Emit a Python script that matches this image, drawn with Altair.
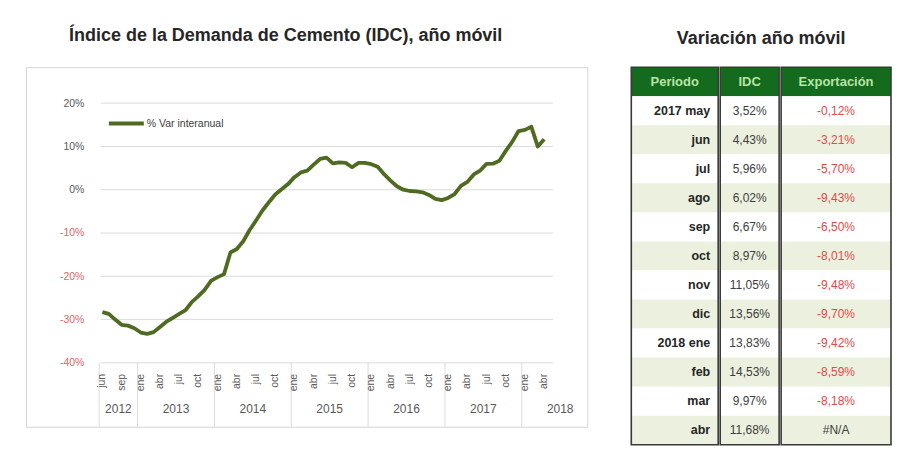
import altair as alt
import pandas as pd

# ---------------- data ----------------
# % variación interanual del IDC (año móvil), jul 2012 .. abr 2018
idc_series = [-28.3, -28.7, -30.0, -31.2, -31.4, -32.0, -33.0, -33.3, -32.9, -31.7,
              -30.5, -29.6, -28.7, -27.8, -25.9, -24.6, -23.1, -21.0, -20.2, -19.5,
              -14.5, -13.7, -11.9, -9.3, -7.1, -4.8, -2.9, -1.1, 0.1, 1.3,
              2.9, 4.0, 4.4, 5.8, 7.1, 7.4, 6.1, 6.3, 6.2, 5.2,
              6.2, 6.2, 5.9, 5.3, 3.6, 2.1, 0.8, 0.0, -0.3, -0.4,
              -0.6, -1.2, -2.1, -2.4, -1.9, -1.0, 0.9, 1.8,
              3.52, 4.43, 5.96, 6.02, 6.67, 8.97, 11.05, 13.56, 13.83, 14.53, 9.97, 11.68]
series_name = "% Var interanual"

x_tick_labels = ["jun", "sep"] + ["ene", "abr", "jul", "oct"] * 5 + ["ene", "abr"]
y_ticks = [-40, -30, -20, -10, 0, 10, 20]

years = ["2012", "2013", "2014", "2015", "2016", "2017", "2018"]
year_first_idx = [0, 6, 18, 30, 42, 54, 66]
year_last_idx = [5, 17, 29, 41, 53, 65, 77]

periodos = ["2017 may", "jun", "jul", "ago", "sep", "oct", "nov", "dic",
            "2018 ene", "feb", "mar", "abr"]
exportacion = [-0.12, -3.21, -5.70, -9.43, -6.50, -8.01, -9.48, -9.70,
               -9.42, -8.59, -8.18, None]
idc_tabla = idc_series[-12:]
headers = ["Periodo", "IDC", "Exportación"]

# ---------------- styles ----------------
FONT = "Liberation Sans"
OLIVE = "#4f6b22"
GRID = "#dcdcdc"
TXT = "#595959"
NEG = "#e06666"
HEAD_BG = "#146b1d"
HEAD_TXT = "#b9e4a8"
SHADE = "#ebf1de"
BORDER = "#3a3a3a"

# ---------------- left chart ----------------
line_df = pd.DataFrame({"i": list(range(len(idc_series))), "v": idc_series,
                        "serie": series_name})
grid_df = pd.DataFrame({"v": y_ticks})
tick_df = pd.DataFrame({"i": [3 * k for k in range(len(x_tick_labels))],
                        "lab": x_tick_labels})
year_df = pd.DataFrame({
    "year": years,
    "i": [(a + b) / 2 for a, b in zip(year_first_idx, year_last_idx)],
})
sep_df = pd.DataFrame({"i": [a - 0.5 for a in year_first_idx]})

XS = alt.Scale(domain=[-11.93, 75.74], nice=False, zero=False)
YS = alt.Scale(domain=[-54.77, 28.31], nice=False, zero=False)
XAXIS = alt.Axis(labels=False, ticks=False, domain=False, grid=False, title=None)
YAXIS = alt.Axis(values=y_ticks, labelExpr="datum.value + '%'", offset=-58,
                 labelPadding=0, ticks=False, domain=False, grid=False, title=None,
                 labelFontSize=10.5, labelFont=FONT, labelFlush=False,
                 labelColor={"condition": {"test": "datum.value < 0", "value": NEG},
                             "value": TXT})

X_ENC = alt.X("i:Q", scale=XS, axis=XAXIS)
Y_ENC = alt.Y("v:Q", scale=YS, axis=YAXIS)

grid = alt.Chart(grid_df).mark_rule(color=GRID, strokeWidth=1).encode(
    y=Y_ENC, x=alt.datum(-0.25), x2=alt.datum(70.4))

line = alt.Chart(line_df).mark_line(strokeWidth=3.8, strokeJoin="round").encode(
    x=X_ENC, y=Y_ENC,
    color=alt.Color("serie:N", scale=alt.Scale(range=[OLIVE]),
                    legend=alt.Legend(title=None, orient="none", legendX=81, legendY=37,
                                      symbolType="stroke", symbolSize=1225,
                                      symbolStrokeWidth=4, labelFontSize=10.5,
                                      labelColor="#404040", labelFont=FONT,
                                      padding=0, labelOffset=1)))

seps = alt.Chart(sep_df).mark_rule(color=GRID, strokeWidth=1).encode(
    x=X_ENC, y=alt.value(296), y2=alt.value(360))

month_txt = alt.Chart(tick_df).mark_text(
    fontSize=10.5, color=TXT, font=FONT, angle=270, align="right", baseline="middle"
).encode(x=X_ENC, y=alt.value(307), text="lab:N")

year_txt = alt.Chart(year_df).mark_text(fontSize=12, color=TXT, font=FONT).encode(
    x=X_ENC, y=alt.value(342), text="year:N")

left = alt.layer(grid, seps, line, month_txt, year_txt).properties(
    width=562, height=360,
    title=alt.Title("Índice de la Demanda de Cemento (IDC), año móvil",
                    anchor="middle", dx=-21, offset=8, baseline="alphabetic",
                    fontSize=18, fontWeight="bold", color="#262626", font=FONT),
    view=alt.ViewBackground(stroke="#d6d6d6", strokeWidth=1),
)

# ---------------- table ----------------
def fmt(v):
    return "#N/A" if v is None else f"{v:.2f}".replace(".", ",") + "%"

tdf = pd.DataFrame({
    "row": list(range(13)),
    "periodo": [headers[0]] + periodos,
    "idc": [headers[1]] + [fmt(v) for v in idc_tabla],
    "exp": [headers[2]] + [fmt(v) for v in exportacion],
})

TH = 378
FILL_COND = {"condition": [{"test": "datum.row === 0", "value": HEAD_BG},
                           {"test": "datum.row % 2 === 0", "value": SHADE}],
             "value": "white"}


def table_column(field, width, body_x, body_align, body_weight, body_size, body_color):
    base = alt.Chart(tdf)
    y = alt.Y("row:O", axis=None, scale=alt.Scale(paddingInner=0, paddingOuter=0))
    cells = base.mark_rect().encode(y=y, x=alt.value(0), x2=alt.value(width),
                                    fill=FILL_COND)
    head = base.transform_filter("datum.row === 0").mark_text(
        fontSize=13, fontWeight="bold", color=HEAD_TXT, align="center", font=FONT
    ).encode(y=y, x=alt.value(width / 2), text=f"{field}:N")
    body = base.transform_filter("datum.row > 0").mark_text(
        fontSize=body_size, fontWeight=body_weight, align=body_align, font=FONT
    ).encode(y=y, x=alt.value(body_x), text=f"{field}:N", color=body_color)
    border = alt.Chart(pd.DataFrame({"k": [0]})).mark_rect(
        filled=False, stroke=BORDER, strokeWidth=1.6
    ).encode(x=alt.value(0), x2=alt.value(width), y=alt.value(0), y2=alt.value(TH))
    return alt.layer(cells, head, body, border).properties(width=width, height=TH)


col1 = table_column("periodo", 87, 79, "right", "bold", 12.5, alt.value("#262626"))
col2 = table_column("idc", 59, 29.5, "center", "normal", 12, alt.value("#3d3d3d"))
col3 = table_column("exp", 110, 55, "center", "normal", 12,
                    alt.condition("datum.exp === '#N/A'", alt.value("#404040"),
                                  alt.value("#e8474a")))

table = alt.hconcat(col1, col2, col3, spacing=0).properties(
    title=alt.Title("Variación año móvil", anchor="middle", offset=4,
                    baseline="alphabetic", fontSize=18, fontWeight="bold",
                    color="#262626", font=FONT))

chart = alt.hconcat(left, table, spacing=42).properties(
    padding={"left": 17, "top": 18, "right": 0, "bottom": 0}
).configure(font=FONT).configure_view(strokeWidth=0)

chart.save("out.html", embed_options={"renderer": "svg", "actions": False})
